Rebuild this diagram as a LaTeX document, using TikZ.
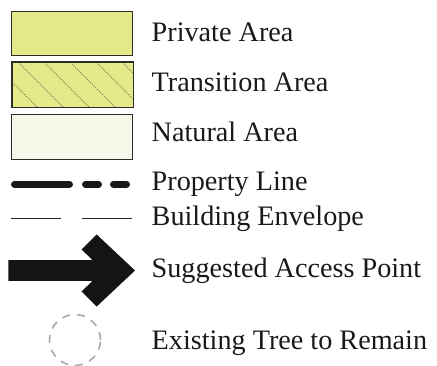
\documentclass[tikz,border=0pt]{standalone}
\usepackage{fontspec}
\setmainfont{Liberation Serif}
\definecolor{privatefill}{RGB}{229,233,138}
\definecolor{naturalfill}{RGB}{244,248,232}
\definecolor{boxedge}{RGB}{45,45,40}
\definecolor{hatchcol}{RGB}{125,130,95}
\definecolor{treecol}{RGB}{170,170,170}
\begin{document}
\begin{tikzpicture}[x=1pt,y=-1pt,
  swatch/.style={draw=boxedge, line width=1.2pt},
  label/.style={anchor=base west, inner sep=0pt, font=\fontsize{28.2}{30}\selectfont, text=black!90},
  propline/.style={line width=7pt, line cap=round, black!90},
  envline/.style={line width=1.6pt, black!85},
  hatchline/.style={hatchcol, line width=0.9pt, dash pattern=on 1.2pt off 1.2pt},
  treestyle/.style={treecol, line width=1.6pt, dash pattern=on 8pt off 7pt}]
\useasboundingbox (0,0) rectangle (437,366);
% swatches
\node[swatch, fill=privatefill, minimum width=121pt, minimum height=44pt, inner sep=0pt, anchor=north west] (private) at (11,11) {};
\node[fill=privatefill, minimum width=121pt, minimum height=45pt, inner sep=0pt, anchor=north west] (transition) at (12,62) {};
\begin{scope}
  \clip (transition.north west) rectangle (transition.south east);
  \foreach \k in {-2,...,5}{
    \draw[hatchline] ({18+26*\k},62) -- ({18+26*\k+48},110);
  }
\end{scope}
\draw[swatch] (transition.north west) rectangle (transition.south east);
\node[swatch, fill=naturalfill, minimum width=121pt, minimum height=45pt, inner sep=0pt, anchor=north west] (natural) at (11,114) {};
% property line
\coordinate (p1) at (14.5,184.3); \coordinate (p2) at (69.5,184.3);
\coordinate (p3) at (85.5,184.3); \coordinate (p4) at (98.5,184.3);
\coordinate (p5) at (113.5,184.3); \coordinate (p6) at (126.5,184.3);
\draw[propline] (p1) -- (p2);
\draw[propline] (p3) -- (p4);
\draw[propline] (p5) -- (p6);
% building envelope
\coordinate (e1) at (11,218.7); \coordinate (e2) at (61,218.7);
\coordinate (e3) at (82,218.7); \coordinate (e4) at (132,218.7);
\draw[envline] (e1) -- (e2);
\draw[envline] (e3) -- (e4);
% access arrow
\fill[black!92] (8.3,260.2) -- (92.5,260.2) -- (81.7,249.5) -- (96.7,234.5) -- (135,270.5)
  -- (96.7,306.5) -- (81.7,291.5) -- (92.5,280.8) -- (8.3,280.8) -- cycle;
% tree
\node[circle, minimum size=52pt, inner sep=0pt, draw=none] (tree) at (75,340) {};
\draw[treestyle] (tree.center) circle[radius=25.5pt];
% labels
\node[label] (lprivate) at (151.5,41.5) {Private Area};
\node[label] (ltransition) at (151.5,91.7) {Transition Area};
\node[label] (lnatural) at (151.5,141.7) {Natural Area};
\node[label] (lprop) at (151.5,191) {Property Line};
\node[label] (lenv) at (151.5,226) {Building Envelope};
\node[label] (laccess) at (151.5,278) {Suggested Access Point};
\node[label] (ltree) at (151.5,350) {Existing Tree to Remain};
\end{tikzpicture}
\end{document}
